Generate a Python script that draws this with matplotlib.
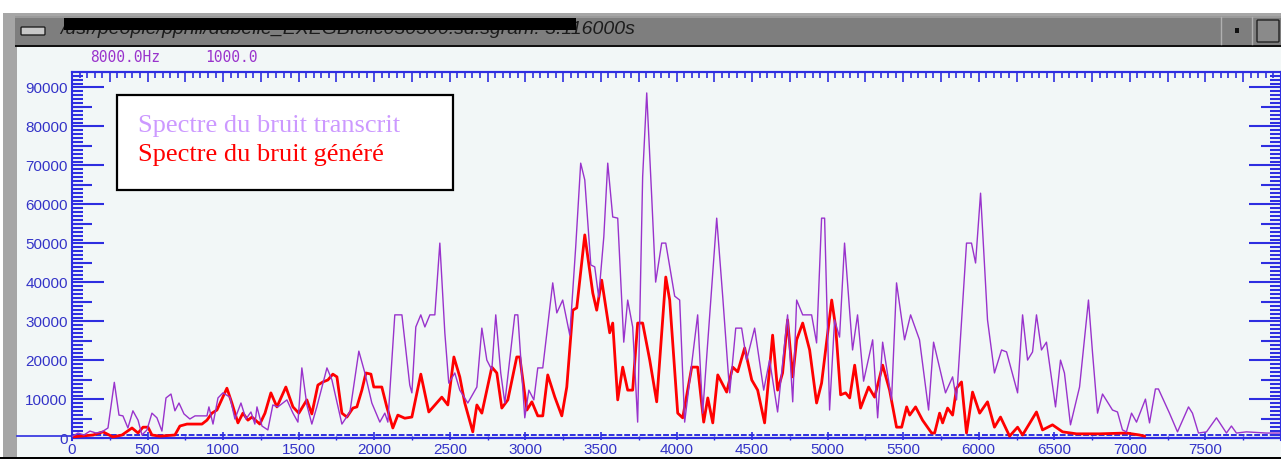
import numpy as np
import matplotlib.pyplot as plt
from matplotlib.patches import Rectangle, FancyBboxPatch
from matplotlib.ticker import MultipleLocator

# spectrum of the transcribed noise (Hz, value in thousands)
purple_hz = [0, 40, 79, 119, 159, 198, 238, 280, 311, 337,
             370, 403, 437, 463, 496, 529, 562, 595, 622, 655,
             681, 708, 741, 780, 814, 893, 906, 933, 966, 999,
             1045, 1078, 1118, 1151, 1184, 1210, 1224, 1257, 1296, 1329,
             1362, 1422, 1462, 1495, 1521, 1554, 1587, 1620, 1687, 1720,
             1786, 1839, 1898, 1938, 1984, 2037, 2070, 2090, 2136, 2183,
             2235, 2249, 2275, 2308, 2335, 2368, 2401, 2434, 2467, 2493,
             2533, 2566, 2619, 2679, 2712, 2745, 2778, 2804, 2837, 2864,
             2930, 2950, 2996, 3023, 3056, 3082, 3115, 3181, 3208, 3247,
             3294, 3333, 3366, 3393, 3433, 3459, 3485, 3519, 3545, 3578,
             3611, 3651, 3677, 3710, 3743, 3776, 3803, 3836, 3862, 3902,
             3929, 3988, 4021, 4054, 4140, 4173, 4266, 4306, 4352, 4392,
             4431, 4464, 4517, 4577, 4616, 4669, 4735, 4769, 4795, 4835,
             4894, 4927, 4960, 4980, 5013, 5046, 5079, 5112, 5165, 5198,
             5238, 5298, 5331, 5364, 5423, 5456, 5509, 5549, 5608, 5668,
             5701, 5780, 5827, 5853, 5919, 5952, 5979, 6012, 6058, 6104,
             6151, 6184, 6257, 6290, 6323, 6356, 6382, 6415, 6448, 6508,
             6541, 6567, 6607, 6667, 6726, 6753, 6786, 6819, 6885, 6918,
             6951, 6977, 7011, 7044, 7103, 7130, 7169, 7189, 7262, 7315,
             7388, 7414, 7454, 7507, 7573, 7639, 7672, 7705, 7771, 7903,
             7990]
purple_val = [0.5, 1.4, 0.9, 1.9, 1.4, 1.7, 2.7, 14.4, 6.0, 5.8,
              2.7, 7.1, 4.7, 0.9, 2.2, 6.5, 5.3, 1.9, 10.4, 11.4,
              7.1, 9.1, 6.3, 5.0, 5.8, 5.8, 8.1, 3.7, 10.4, 11.7,
              10.6, 5.0, 9.1, 5.0, 6.8, 3.7, 8.1, 3.2, 2.2, 8.6,
              8.1, 9.9, 6.5, 4.2, 18.1, 8.6, 3.7, 8.1, 18.1, 15.0,
              3.7, 6.8, 22.4, 16.8, 9.1, 4.2, 6.5, 4.2, 31.7, 31.7,
              13.7, 11.7, 28.6, 31.7, 28.6, 31.7, 31.7, 50.1, 27.1, 14.2,
              16.8, 12.4, 9.1, 13.2, 28.3, 20.1, 17.6, 31.7, 16.8, 9.1,
              31.7, 31.7, 5.3, 12.4, 9.9, 18.1, 18.1, 39.9, 32.2, 35.5,
              26.5, 49.1, 70.6, 66.3, 44.5, 44.0, 36.3, 51.7, 70.6, 56.8,
              56.5, 24.7, 35.5, 28.6, 4.2, 67.1, 88.6, 61.9, 40.1, 50.1,
              50.1, 36.5, 35.5, 4.2, 31.7, 6.5, 56.5, 36.3, 11.7, 28.3,
              28.3, 20.1, 28.3, 12.4, 20.1, 6.8, 31.7, 9.4, 35.5, 31.7,
              31.7, 24.5, 56.5, 56.5, 7.3, 30.4, 26.0, 50.1, 22.7, 31.7,
              14.7, 25.3, 5.3, 24.7, 9.9, 39.9, 25.3, 31.7, 25.3, 7.3,
              24.7, 11.7, 15.8, 9.9, 50.1, 50.1, 45.0, 62.9, 30.4, 16.8,
              22.7, 22.2, 11.7, 31.7, 20.1, 22.2, 31.7, 22.7, 24.7, 8.1,
              20.1, 16.8, 3.5, 13.2, 35.5, 21.9, 6.5, 11.4, 7.3, 6.8,
              2.2, 1.7, 6.5, 4.2, 10.1, 4.0, 12.7, 12.7, 6.5, 1.7,
              8.1, 6.5, 1.4, 1.7, 5.3, 1.4, 3.2, 1.4, 1.7, 1.4,
              1.4]

# spectrum of the generated noise
red_hz = [0, 139, 205, 271, 331, 397, 437, 470, 503, 529,
          582, 681, 714, 761, 860, 893, 926, 959, 1025, 1058,
          1098, 1131, 1164, 1191, 1243, 1277, 1316, 1356, 1415, 1462,
          1501, 1554, 1587, 1627, 1660, 1693, 1726, 1753, 1786, 1819,
          1859, 1885, 1918, 1945, 1978, 1997, 2050, 2083, 2123, 2156,
          2202, 2249, 2308, 2361, 2447, 2487, 2527, 2566, 2599, 2652,
          2679, 2712, 2778, 2811, 2844, 2884, 2943, 2963, 3010, 3043,
          3082, 3115, 3148, 3195, 3241, 3274, 3314, 3340, 3393, 3446,
          3472, 3505, 3558, 3578, 3611, 3644, 3677, 3710, 3743, 3776,
          3823, 3869, 3929, 3955, 4008, 4041, 4101, 4140, 4180, 4207,
          4240, 4273, 4332, 4372, 4405, 4451, 4498, 4537, 4583, 4636,
          4669, 4702, 4735, 4769, 4795, 4835, 4881, 4927, 4960, 5027,
          5053, 5086, 5119, 5146, 5179, 5218, 5271, 5311, 5364, 5410,
          5456, 5490, 5523, 5543, 5582, 5628, 5688, 5708, 5741, 5761,
          5794, 5827, 5853, 5886, 5919, 5959, 6006, 6058, 6104, 6144,
          6204, 6257, 6290, 6382, 6422, 6488, 6555, 6647, 6799, 6978,
          7064, 7097]
red_val = [0.4, 0.9, 1.7, 0.4, 0.9, 2.7, 1.4, 2.9, 2.9, 0.9,
           0.6, 0.9, 3.2, 3.7, 3.7, 4.7, 6.5, 7.3, 12.9, 9.1,
           4.0, 6.5, 4.7, 5.5, 3.7, 6.5, 11.7, 8.1, 13.2, 8.1,
           6.5, 9.9, 6.3, 13.7, 14.5, 15.0, 16.5, 15.8, 6.5, 5.5,
           7.8, 8.1, 12.4, 16.8, 16.5, 13.2, 13.2, 8.1, 2.7, 6.0,
           5.2, 5.5, 16.5, 6.8, 10.6, 8.6, 20.9, 15.8, 9.1, 1.7,
           8.6, 6.5, 18.3, 16.8, 7.8, 9.9, 20.9, 20.9, 7.3, 9.4,
           5.8, 5.8, 16.3, 10.6, 5.8, 13.2, 32.9, 33.5, 52.2, 37.3,
           32.9, 40.6, 27.1, 29.6, 9.9, 18.3, 12.4, 12.4, 29.6, 29.6,
           20.1, 9.4, 41.4, 35.5, 6.5, 5.3, 18.3, 18.3, 4.2, 10.4,
           4.0, 16.3, 11.9, 18.3, 17.1, 23.2, 15.0, 12.4, 4.0, 26.5,
           12.4, 16.8, 30.4, 15.8, 25.3, 29.6, 22.7, 9.1, 14.2, 35.5,
           28.6, 11.2, 11.7, 10.4, 18.8, 7.8, 13.2, 10.6, 18.8, 12.4,
           2.9, 2.9, 8.1, 6.0, 8.1, 4.7, 1.4, 1.4, 6.5, 4.0,
           7.8, 6.0, 12.9, 14.5, 1.4, 11.9, 6.5, 9.4, 2.9, 5.5,
           0.6, 2.9, 0.9, 6.8, 2.2, 3.5, 1.7, 1.2, 1.2, 1.4,
           0.9, 0.6]

legend_labels = ['Spectre du bruit transcrit', 'Spectre du bruit généré']
window_title = '/usr/people/pphil/dubelle_EXEGBIclic030300.sd.sgram: 3.116000s'

BLUE = '#2e2ee0'
LABEL_BLUE = '#3434c8'
BG = '#f2f7f7'
PURPLE = '#9933cc'

fig = plt.figure(figsize=(12.81, 4.59), dpi=100)
fig.patch.set_facecolor('white')

# window frame, drawn in pixel coordinates
deco = fig.add_axes([0, 0, 1, 1])
deco.set_xlim(0, 1281)
deco.set_ylim(459, 0)
deco.axis('off')
deco.add_patch(Rectangle((3, 13), 1278, 446, fc='#a6a6a6', ec='none'))
deco.add_patch(Rectangle((15, 16), 1266, 30, fc='#7e7e7e', ec='none'))
deco.add_patch(Rectangle((15, 16), 1266, 1.5, fc='#9a9a9a', ec='none'))
deco.add_patch(Rectangle((15, 45), 1266, 2, fc='#111111', ec='none'))
deco.add_patch(Rectangle((17, 47), 1264, 410, fc=BG, ec='none'))
deco.add_patch(Rectangle((0, 456.5), 1281, 2.5, fc='black', ec='none'))
deco.add_patch(FancyBboxPatch((22, 28), 22, 6, boxstyle='round,pad=1',
                              fc='#c8c8c8', ec='#222222', lw=1))
deco.plot([1221, 1221], [17, 44], color='#b0b0b0', lw=1)
deco.plot([1252, 1252], [17, 44], color='#b0b0b0', lw=1)
deco.add_patch(Rectangle((1234.5, 28), 4, 5, fc='#111111', ec='none'))
deco.add_patch(FancyBboxPatch((1258, 21), 20, 20, boxstyle='round,pad=1',
                              fc='#8a8a8a', ec='#222222', lw=1))
deco.text(60, 29.5, window_title, style='italic', fontsize=14,
          family='Liberation Sans', color='#1c1c1c', va='center')
deco.add_patch(Rectangle((64, 17.5), 512, 12.5, fc='black', ec='none', zorder=3))
deco.text(90, 57, '8000.0Hz', family='DejaVu Sans Mono', fontsize=10.5,
          color=PURPLE, va='center')
deco.text(205, 57, '1000.0', family='DejaVu Sans Mono', fontsize=10.5,
          color=PURPLE, va='center')
deco.plot([17, 72], [436, 436], color=BLUE, lw=1.2)

# plot area
ax = fig.add_axes([72 / 1281, 1 - 440 / 459, 1209 / 1281, 368 / 459])
ax.set_facecolor(BG)
ax.set_xlim(0, 8000)
ax.set_ylim(-385, 93970)

ax.axhline(0, color=BLUE, lw=1.6, zorder=1)
ax.axhline(950, color=BLUE, lw=1.4, ls=(0, (3, 1)), zorder=1)

ax.plot(purple_hz, np.array(purple_val) * 1000, color=PURPLE, lw=1.0, zorder=3)
ax.plot(red_hz, np.array(red_val) * 1000, color='#ff0000', lw=2.0, zorder=2)

for side in ['left', 'top', 'right']:
    ax.spines[side].set_color(BLUE)
    ax.spines[side].set_linewidth(1.5)
ax.spines['bottom'].set_visible(False)

ax.set_xticks(np.arange(0, 7501, 500))
ax.xaxis.set_minor_locator(MultipleLocator(250))
ax.tick_params(axis='x', which='major', direction='in', length=6, width=1.2,
               color=BLUE, labelcolor=LABEL_BLUE, labelsize=11, pad=2.5)
ax.tick_params(axis='x', which='minor', direction='in', length=3, width=1,
               color=BLUE)

ax.set_yticks(np.arange(0, 90001, 10000))
ax.yaxis.set_minor_locator(MultipleLocator(1000))
ax.tick_params(axis='y', which='major', direction='in', length=23, width=1.5,
               color=BLUE, labelcolor=LABEL_BLUE, labelsize=11, pad=3,
               left=True, right=True)
ax.tick_params(axis='y', which='minor', direction='in', length=8, width=1.5,
               color=BLUE, left=True, right=True)
for lab in ax.get_xticklabels() + ax.get_yticklabels():
    lab.set_family('Liberation Sans')

# medium ticks every 5000 on both sides
for side in ['left', 'right']:
    sec = ax.secondary_yaxis(side)
    sec.set_yticks(np.arange(5000, 90001, 10000))
    sec.tick_params(direction='in', length=14.5, width=1.5, color=BLUE,
                    labelleft=False, labelright=False)
    sec.spines[side].set_visible(False)

# top ruler
top = ax.secondary_xaxis('top')
top.set_xticks(np.arange(0, 8001, 250))
top.xaxis.set_minor_locator(MultipleLocator(50))
top.tick_params(which='major', direction='in', length=7, width=1.2,
                color=BLUE, labeltop=False)
top.tick_params(which='minor', direction='in', length=4, width=1.2, color=BLUE)
top.spines['top'].set_color(BLUE)
top.spines['top'].set_linewidth(1.5)

# legend box
ax.add_patch(Rectangle((0.0372, 0.6793), 0.2779, 0.2582, transform=ax.transAxes,
                       fc='white', ec='black', lw=1.6, zorder=5))
ax.text(0.0546, 0.8383, legend_labels[0], transform=ax.transAxes,
        family='Liberation Serif', fontsize=19, color='#cc99ff',
        va='baseline', zorder=6)
ax.text(0.0546, 0.7582, legend_labels[1], transform=ax.transAxes,
        family='Liberation Serif', fontsize=19, color='#ff0000',
        va='baseline', zorder=6)

fig.savefig('out.png', dpi=100)
